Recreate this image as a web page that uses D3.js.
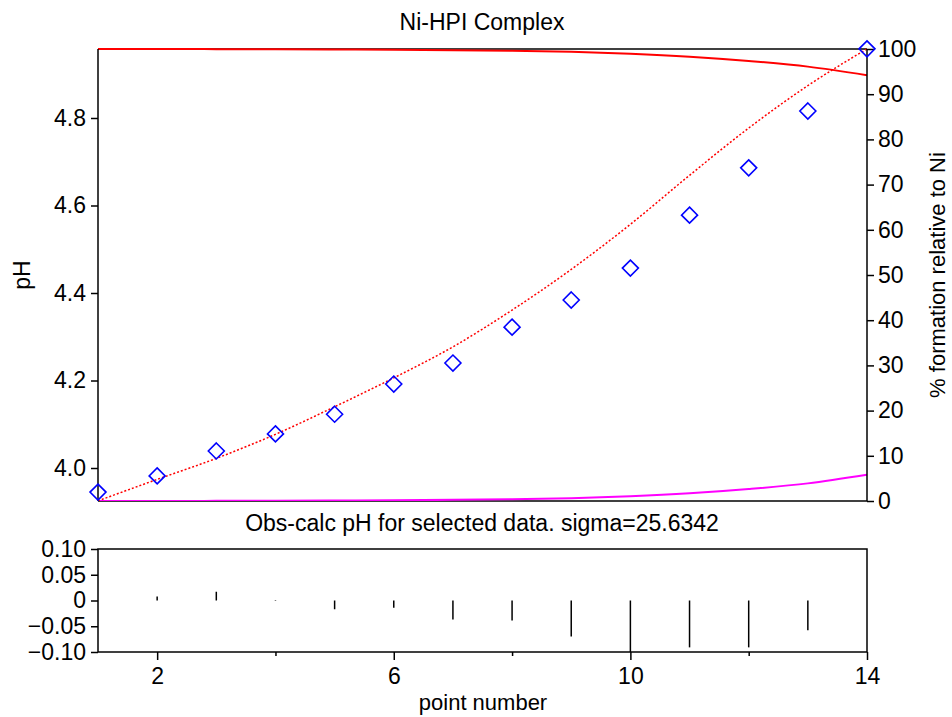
<!DOCTYPE html>
<html>
<head>
<meta charset="utf-8">
<script src="https://cdn.jsdelivr.net/npm/d3@7"></script>
<style>
	body { margin: 0; background: #fff; }
	text { font-family: "Liberation Sans", Arial, sans-serif; fill: #000; }
</style>
</head>
<body>
<div id="chart"></div>
<script>

// point numbers
var points = [1, 2, 3, 4, 5, 6, 7, 8, 9, 10, 11, 12, 13, 14];
// observed pH (diamonds)
var obsPH = [3.945, 3.982, 4.039, 4.078, 4.123, 4.192, 4.240, 4.322, 4.384, 4.457, 4.578, 4.686, 4.816, 4.958];
// calculated pH (dotted red)
var calcPH = [3.925, 3.974, 4.022, 4.077, 4.140, 4.206, 4.277, 4.361, 4.454, 4.557, 4.669, 4.777, 4.874, 4.958];
// % formation relative to Ni
var freeNi = [100, 99.99, 99.97, 99.95, 99.9, 99.85, 99.75, 99.6, 99.4, 98.96, 98.3, 97.35, 96.1, 94.2];
var complexNi = [0, 0.01, 0.03, 0.05, 0.1, 0.15, 0.25, 0.4, 0.6, 1.04, 1.7, 2.65, 3.9, 5.8];
// obs - calc residuals
var residual = [0, 0.008, 0.017, 0.001, -0.017, -0.014, -0.037, -0.039, -0.07, -0.10, -0.091, -0.091, -0.058, 0];

var phTicks = [4.0, 4.2, 4.4, 4.6, 4.8];
var pctTicks = [0, 10, 20, 30, 40, 50, 60, 70, 80, 90, 100];
var resTicks = [0.10, 0.05, 0, -0.05, -0.10];
var xLabelTicks = [2, 6, 10, 14];
var xMinorTicks = [4, 8, 12];

var width = 952, height = 717;
var left = 98, right = 867;
var mainTop = 49, mainBottom = 501;
var resTop = 549, resBottom = 652;
var fontSize = "23px";

var svg = d3.select("#chart").append("svg")
	.attr("width", width)
	.attr("height", height);

var x = d3.scaleLinear().domain([1, 14]).range([left, right]);
var yPH = d3.scaleLinear().domain([3.9246, 4.9577]).range([mainBottom, mainTop]);
var yPct = d3.scaleLinear().domain([0, 100]).range([mainBottom, mainTop]);
var yRes = d3.scaleLinear().domain([-0.10, 0.10]).range([resBottom, resTop]);

// title
svg.append("text").attr("x", 482).attr("y", 30)
	.attr("text-anchor", "middle").style("font-size", fontSize)
	.text("Ni-HPI Complex");

// main plot clip
svg.append("clipPath").attr("id", "mainClip")
	.append("rect").attr("x", left).attr("y", mainTop - 2)
	.attr("width", right - left).attr("height", mainBottom - mainTop + 2);

// frame of main plot
svg.append("line").attr("x1", left).attr("x2", right).attr("y1", mainTop).attr("y2", mainTop)
	.attr("stroke", "#000").attr("stroke-width", 1.5);
svg.append("line").attr("x1", left).attr("x2", right).attr("y1", mainBottom).attr("y2", mainBottom)
	.attr("stroke", "#000").attr("stroke-width", 1.5);

var main = svg.append("g").attr("clip-path", "url(#mainClip)");

var pctLine = d3.line()
	.x(function(d, i) { return x(points[i]); })
	.y(function(d) { return yPct(d); })
	.curve(d3.curveMonotoneX);

main.append("path").datum(freeNi)
	.attr("d", pctLine)
	.attr("fill", "none").attr("stroke", "#ff0000").attr("stroke-width", 2);

main.append("path").datum(complexNi)
	.attr("d", pctLine)
	.attr("fill", "none").attr("stroke", "#ff00ff").attr("stroke-width", 2);

var phLine = d3.line()
	.x(function(d, i) { return x(points[i]); })
	.y(function(d) { return yPH(d); })
	.curve(d3.curveMonotoneX);

main.append("path").datum(calcPH)
	.attr("d", phLine)
	.attr("fill", "none").attr("stroke", "#ff0000")
	.attr("stroke-width", 1.5).attr("stroke-dasharray", "2,2");

// left pH axis
var axL = svg.append("g").attr("transform", "translate(" + left + ",0)")
	.call(d3.axisLeft(yPH).tickValues(phTicks).tickSize(7).tickPadding(5).tickFormat(d3.format(".1f")));
axL.select(".domain").attr("d", "M0," + mainTop + "V" + mainBottom);

// right % axis
var axR = svg.append("g").attr("transform", "translate(" + right + ",0)")
	.call(d3.axisRight(yPct).tickValues(pctTicks).tickSize(7).tickPadding(4).tickFormat(d3.format("d")));
axR.select(".domain").attr("d", "M0," + mainTop + "V" + mainBottom);

// diamonds drawn above the frame
svg.append("g").selectAll("path.obs")
	.data(obsPH)
	.enter().append("path")
	.attr("class", "obs")
	.attr("d", "M0,-8L8,0L0,8L-8,0Z")
	.attr("transform", function(d, i) { return "translate(" + x(points[i]) + "," + yPH(d) + ")"; })
	.attr("fill", "none").attr("stroke", "#0000ff").attr("stroke-width", 1.6);

svg.append("text")
	.attr("transform", "translate(30," + ((mainTop + mainBottom) / 2) + ") rotate(-90)")
	.attr("text-anchor", "middle").style("font-size", fontSize)
	.text("pH");

svg.append("text")
	.attr("transform", "translate(945," + ((mainTop + mainBottom) / 2) + ") rotate(-90)")
	.attr("text-anchor", "middle").style("font-size", "22px")
	.text("% formation relative to Ni");

// residual panel
svg.append("text").attr("x", 482).attr("y", 531)
	.attr("text-anchor", "middle").style("font-size", fontSize)
	.text("Obs-calc pH for selected data. sigma=25.6342");

svg.append("clipPath").attr("id", "resClip")
	.append("rect").attr("x", left).attr("y", resTop)
	.attr("width", right - left).attr("height", resBottom - resTop);

svg.append("g").attr("clip-path", "url(#resClip)")
	.selectAll("line.res")
	.data(residual)
	.enter().append("line")
	.attr("class", "res")
	.attr("x1", function(d, i) { return x(points[i]); })
	.attr("x2", function(d, i) { return x(points[i]); })
	.attr("y1", yRes(0))
	.attr("y2", function(d) { return yRes(d); })
	.attr("stroke", "#000").attr("stroke-width", 1.5);

svg.append("rect").attr("x", left).attr("y", resTop)
	.attr("width", right - left).attr("height", resBottom - resTop)
	.attr("fill", "none").attr("stroke", "#000").attr("stroke-width", 1.5);

var axRes = svg.append("g").attr("transform", "translate(" + left + ",0)")
	.call(d3.axisLeft(yRes).tickValues(resTicks).tickSize(7).tickPadding(5)
		.tickFormat(function(d) { return d === 0 ? "0" : d3.format(".2f")(d); }));
axRes.select(".domain").remove();

var axB = svg.append("g").attr("transform", "translate(0," + resBottom + ")")
	.call(d3.axisBottom(x).tickValues(xLabelTicks).tickSize(8).tickPadding(8).tickFormat(d3.format("d")));
axB.select(".domain").remove();

svg.append("g").attr("transform", "translate(0," + resBottom + ")")
	.call(d3.axisBottom(x).tickValues(xMinorTicks).tickSize(4).tickFormat(""))
	.select(".domain").remove();

svg.append("text").attr("x", 483).attr("y", 710)
	.attr("text-anchor", "middle").style("font-size", "22px")
	.text("point number");

svg.selectAll(".tick text").style("font-size", fontSize).style("font-family", "'Liberation Sans', Arial, sans-serif");
svg.selectAll(".tick line, .domain").attr("stroke", "#000").attr("stroke-width", 1.5);

</script>
</body>
</html>
